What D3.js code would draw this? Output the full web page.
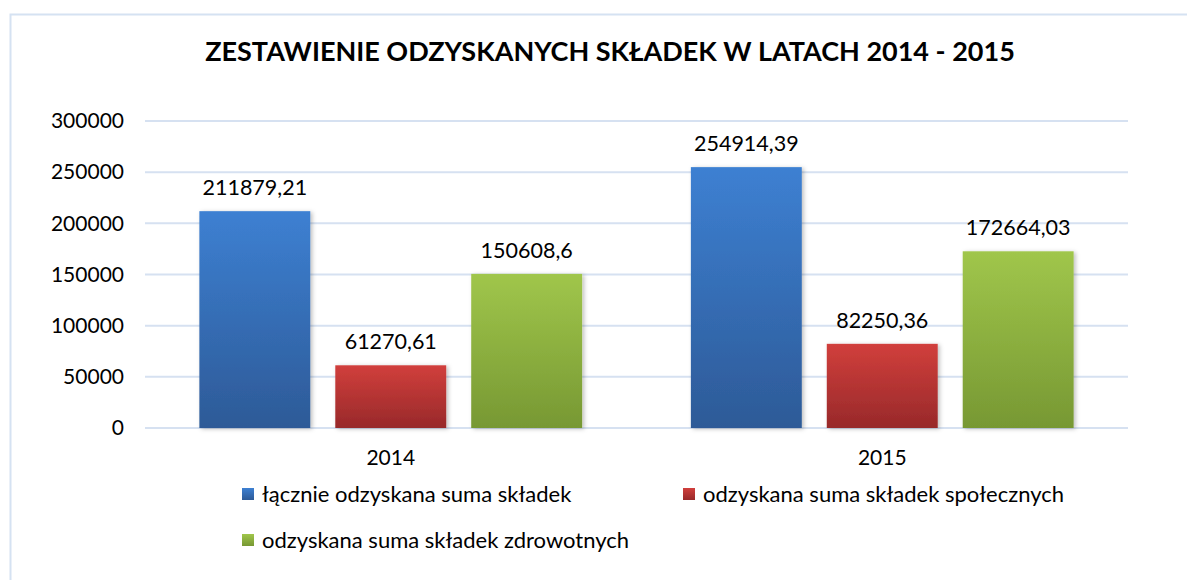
<!DOCTYPE html>
<html>
<head>
<meta charset="utf-8">
<script src="https://cdn.jsdelivr.net/npm/d3@7"></script>
<style>
  body { margin: 0; background: #fff; }
  svg { display: block; font-family: Lato, "Open Sans", sans-serif; }
</style>
</head>
<body>
<div id="wykres"></div>
<script>
// dane
const kategorie = ["2014", "2015"];
const serie = ["łącznie odzyskana suma składek", "odzyskana suma składek społecznych", "odzyskana suma składek zdrowotnych"];
const wartosci2014 = [211879.21, 61270.61, 150608.6];
const wartosci2015 = [254914.39, 82250.36, 172664.03];
const podzialkaY = [0, 50000, 100000, 150000, 200000, 250000, 300000];
const kolory = [
    { gora: "#3d80d2", dol: "#2d5a97" },
    { gora: "#d13f3c", dol: "#98292a" },
    { gora: "#a0c64b", dol: "#779833" }
];

const width = 1187, height = 580;
const wartosci = { "2014": wartosci2014, "2015": wartosci2015 };

const svg = d3.select("#wykres").append("svg")
    .attr("width", width)
    .attr("height", height);

const defs = svg.append("defs");
kolory.forEach((k, i) => {
    const g = defs.append("linearGradient")
        .attr("id", "grad" + i)
        .attr("x1", 0).attr("y1", 0).attr("x2", 0).attr("y2", 1);
    g.append("stop").attr("offset", "0%").attr("stop-color", k.gora);
    g.append("stop").attr("offset", "100%").attr("stop-color", k.dol);
});
defs.append("filter").attr("id", "cien")
    .attr("x", "-10%").attr("y", "-10%").attr("width", "130%").attr("height", "130%")
    .append("feDropShadow")
    .attr("dx", 2).attr("dy", 1).attr("stdDeviation", 2)
    .attr("flood-color", "#000").attr("flood-opacity", 0.25);

// ramka (prawa i dolna krawędź poza kadrem)
svg.append("path")
    .attr("d", "M10.5," + height + "V14.5H" + width)
    .attr("fill", "none")
    .attr("stroke", "#d5e2f2")
    .attr("stroke-width", 2);

// tytuł
const tytul = svg.append("text")
    .attr("x", 610)
    .attr("y", 61)
    .attr("text-anchor", "middle")
    .attr("font-weight", "bold")
    .attr("font-size", 26)
    .attr("fill", "#000")
    .text("ZESTAWIENIE ODZYSKANYCH SKŁADEK W LATACH 2014 - 2015");
const szer = tytul.node().getComputedTextLength();
tytul.attr("font-size", 26 * 810 / szer);

// skale
const x0 = d3.scaleBand().domain(kategorie).range([145, 1128]);
const x1 = d3.scaleBand().domain(serie).range([0, x0.bandwidth()])
    .paddingInner(0.184).paddingOuter(0.4);
const y = d3.scaleLinear().domain([0, 300000]).range([428, 121]);

// linie siatki
svg.append("g")
    .selectAll("line")
    .data(podzialkaY)
    .join("line")
    .attr("x1", 145).attr("x2", 1128)
    .attr("y1", d => y(d)).attr("y2", d => y(d))
    .attr("stroke", "#d6e1f1")
    .attr("stroke-width", 2);

// oś Y
const osY = svg.append("g")
    .attr("transform", "translate(124,0)")
    .call(d3.axisLeft(y).tickValues(podzialkaY).tickSize(0).tickPadding(0).tickFormat(d => d));
osY.select(".domain").remove();
osY.selectAll("text")
    .attr("font-family", "Lato, sans-serif")
    .attr("font-size", 21)
    .attr("fill", "#000");

// oś X
const osX = svg.append("g")
    .attr("transform", "translate(0,428)")
    .call(d3.axisBottom(x0).tickSize(0).tickPadding(22));
osX.select(".domain").remove();
osX.selectAll("text")
    .attr("font-family", "Lato, sans-serif")
    .attr("font-size", 21)
    .attr("fill", "#000");

// słupki
const grupy = svg.append("g")
    .selectAll("g")
    .data(kategorie)
    .join("g")
    .attr("transform", d => "translate(" + x0(d) + ",0)");

grupy.selectAll("rect")
    .data(k => serie.map((s, i) => ({ seria: s, i: i, v: wartosci[k][i] })))
    .join("rect")
    .attr("x", d => x1(d.seria))
    .attr("width", x1.bandwidth())
    .attr("y", d => y(d.v))
    .attr("height", d => y(0) - y(d.v))
    .attr("fill", d => "url(#grad" + d.i + ")")
    .attr("filter", "url(#cien)");

grupy.selectAll("text")
    .data(k => serie.map((s, i) => ({ seria: s, i: i, v: wartosci[k][i] })))
    .join("text")
    .attr("x", d => x1(d.seria) + x1.bandwidth() / 2)
    .attr("y", d => y(d.v) - 16)
    .attr("text-anchor", "middle")
    .attr("font-size", 21.5)
    .attr("fill", "#000")
    .text(d => String(d.v).replace(".", ","));

// legenda
const pozLegendy = [[242, 494], [683, 494], [242, 540]];
const legenda = svg.append("g")
    .selectAll("g")
    .data(serie)
    .join("g")
    .attr("transform", (d, i) => "translate(" + pozLegendy[i][0] + "," + pozLegendy[i][1] + ")");
legenda.append("rect")
    .attr("x", 0).attr("y", -6)
    .attr("width", 12).attr("height", 12)
    .attr("fill", (d, i) => "url(#grad" + i + ")");
legenda.append("text")
    .attr("x", 20)
    .attr("y", 7.5)
    .attr("font-size", 22)
    .attr("fill", "#000")
    .text(d => d);
</script>
</body>
</html>
